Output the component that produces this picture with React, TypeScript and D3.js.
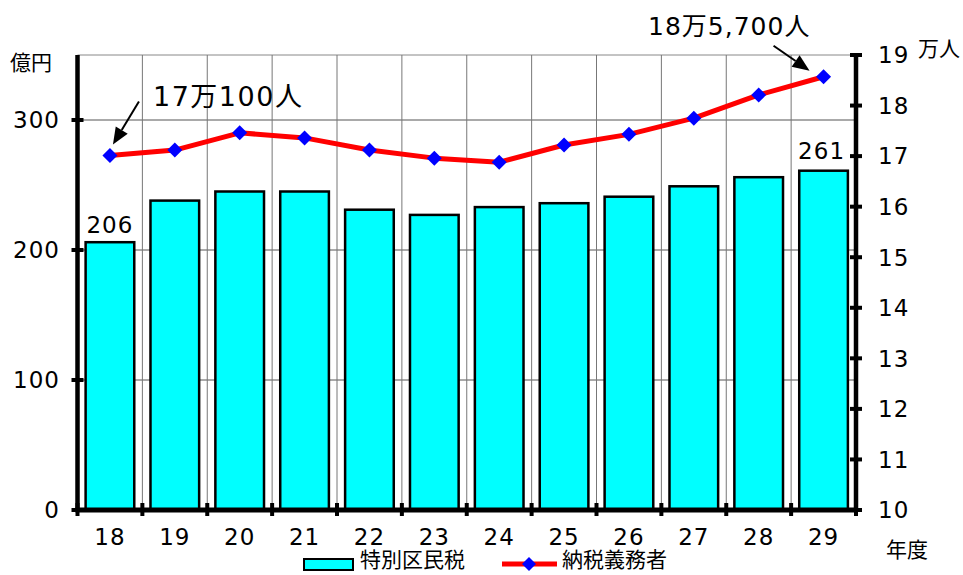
import React from 'react';
import * as d3 from 'd3';

const years = ['18', '19', '20', '21', '22', '23', '24', '25', '26', '27', '28', '29'];
const taxValues = [206, 238, 245, 245, 231, 227, 233, 236, 241, 249, 256, 261];
const taxpayers = [17.01, 17.12, 17.46, 17.36, 17.12, 16.96, 16.88, 17.22, 17.43, 17.75, 18.21, 18.57];
const leftTicks = [0, 100, 200, 300];
const rightTicks = [10, 11, 12, 13, 14, 15, 16, 17, 18, 19];
const barSeriesName = '特別区民税';
const lineSeriesName = '納税義務者';
const firstNote = '17万100人';
const lastNote = '18万5,700人';

const W = 963;
const H = 575;
const L = 77.5;
const R = 856;
const T = 55;
const B = 510;
const FONT = '"DejaVu Sans", "Noto Sans CJK JP", sans-serif';

function Arrow({ x1, y1, x2, y2 }: { x1: number; y1: number; x2: number; y2: number }) {
  const dx = x2 - x1;
  const dy = y2 - y1;
  const len = Math.sqrt(dx * dx + dy * dy);
  const ux = dx / len;
  const uy = dy / len;
  const hl = 17;
  const hw = 7;
  const bx = x2 - ux * hl;
  const by = y2 - uy * hl;
  const px = -uy * hw;
  const py = ux * hw;
  return (
    <g>
      <line x1={x1} y1={y1} x2={bx} y2={by} stroke="#000" strokeWidth={2} />
      <polygon points={`${x2},${y2} ${bx + px},${by + py} ${bx - px},${by - py}`} fill="#000" />
    </g>
  );
}

export default function App() {
  const x = d3.scaleBand<string>().domain(years).range([L, R]).paddingInner(0.25).paddingOuter(0.125);
  const step = x.step();
  const yL = d3.scaleLinear().domain([0, 350]).range([B, T]);
  const yR = d3.scaleLinear().domain([10, 19]).range([B, T]);
  const cx = (d: string) => (x(d) as number) + x.bandwidth() / 2;
  const line = d3
    .line<number>()
    .x((_, i) => cx(years[i]))
    .y((d) => yR(d));
  const boundaries = d3.range(0, years.length + 1).map((k) => L + step * k);
  const diamond = (px: number, py: number, r: number) =>
    `${px},${py - r} ${px + r},${py} ${px},${py + r} ${px - r},${py}`;

  const first = { x: cx(years[0]), y: yR(taxpayers[0]) };
  const last = { x: cx(years[years.length - 1]), y: yR(taxpayers[taxpayers.length - 1]) };

  return (
    <svg width={W} height={H} style={{ position: 'absolute', left: 0, top: 0, background: '#fff' }} fontFamily={FONT}>
      <rect width={W} height={H} fill="#fff" />
      {/* horizontal gridlines */}
      {leftTicks.filter((t) => t > 0).map((t) => (
        <line key={'h' + t} x1={L} x2={R} y1={yL(t)} y2={yL(t)} stroke="#555" strokeWidth={1} />
      ))}
      <line x1={L} x2={R} y1={T} y2={T} stroke="#888" strokeWidth={1} />
      {/* vertical gridlines */}
      {boundaries.slice(1, -1).map((bx, i) => (
        <line key={'v' + i} x1={bx} x2={bx} y1={T} y2={B} stroke="#777" strokeWidth={1} />
      ))}
      {/* bars */}
      {taxValues.map((v, i) => (
        <rect
          key={'b' + i}
          x={x(years[i])}
          y={yL(v)}
          width={x.bandwidth()}
          height={B - yL(v)}
          fill="#00FFFF"
          stroke="#000"
          strokeWidth={2.5}
        />
      ))}
      {/* line */}
      <path d={line(taxpayers) || ''} fill="none" stroke="#FF0000" strokeWidth={5} strokeLinejoin="round" />
      {taxpayers.map((v, i) => (
        <polygon key={'m' + i} points={diamond(cx(years[i]), yR(v), 7.5)} fill="#0000FF" />
      ))}
      {/* axes */}
      <line x1={L} x2={L} y1={T} y2={B + 2} stroke="#000" strokeWidth={4.5} />
      <line x1={R} x2={R} y1={T} y2={B + 2} stroke="#000" strokeWidth={4.5} />
      <line x1={L - 2} x2={R + 2} y1={B} y2={B} stroke="#000" strokeWidth={5} />
      {leftTicks.map((t) => (
        <g key={'lt' + t}>
          <line x1={L - 6} x2={L + 6} y1={yL(t)} y2={yL(t)} stroke="#000" strokeWidth={4} />
          <text x={60} y={yL(t)} dy="0.36em" textAnchor="end" fontSize={23} fill="#000" letterSpacing={1}>
            {t}
          </text>
        </g>
      ))}
      {rightTicks.map((t) => (
        <g key={'rt' + t}>
          <line x1={R - 6} x2={R + 6} y1={yR(t)} y2={yR(t)} stroke="#000" strokeWidth={4} />
          <text x={878} y={yR(t)} dy="0.36em" textAnchor="start" fontSize={23} fill="#000" letterSpacing={1}>
            {t}
          </text>
        </g>
      ))}
      {boundaries.map((bx, i) => (
        <line key={'bt' + i} x1={bx} x2={bx} y1={B - 7} y2={B + 6} stroke="#000" strokeWidth={4} />
      ))}
      {years.map((y) => (
        <text key={'xl' + y} x={cx(y)} y={537} dy="0.36em" textAnchor="middle" fontSize={23} fill="#000" letterSpacing={1}>
          {y}
        </text>
      ))}
      {/* unit labels */}
      <text x={10} y={62} dy="0.36em" fontSize={21} fill="#000">億円</text>
      <text x={918} y={48} dy="0.36em" fontSize={21} fill="#000">万人</text>
      <text x={886} y={549} dy="0.36em" fontSize={21} fill="#000">年度</text>
      {/* bar value labels */}
      <text x={cx(years[0])} y={yL(taxValues[0]) - 17} dy="0.36em" textAnchor="middle" fontSize={23} fill="#000" letterSpacing={1}>
        {taxValues[0]}
      </text>
      <text x={cx(years[years.length - 1]) - 2} y={yL(taxValues[taxValues.length - 1]) - 20} dy="0.36em" textAnchor="middle" fontSize={23} fill="#000" letterSpacing={1}>
        {taxValues[taxValues.length - 1]}
      </text>
      {/* annotations */}
      <text x={153} y={96} dy="0.36em" fontSize={27} fill="#000" letterSpacing={1.5}>{firstNote}</text>
      <Arrow x1={first.x + 29} y1={first.y - 54} x2={first.x + 3} y2={first.y - 11} />
      <text x={648} y={26} dy="0.36em" fontSize={25} fill="#000" letterSpacing={1}>{lastNote}</text>
      <Arrow x1={last.x - 50} y1={last.y - 31} x2={last.x - 14} y2={last.y - 6} />
      {/* legend */}
      <rect x={304} y={559} width={49} height={11} fill="#00FFFF" stroke="#000" strokeWidth={2} />
      <text x={360} y={567} fontSize={21} fill="#000">{barSeriesName}</text>
      <line x1={502} x2={557} y1={564} y2={564} stroke="#FF0000" strokeWidth={5} />
      <polygon points={diamond(529, 564, 7)} fill="#0000FF" />
      <text x={562} y={567} fontSize={21} fill="#000">{lineSeriesName}</text>
    </svg>
  );
}
